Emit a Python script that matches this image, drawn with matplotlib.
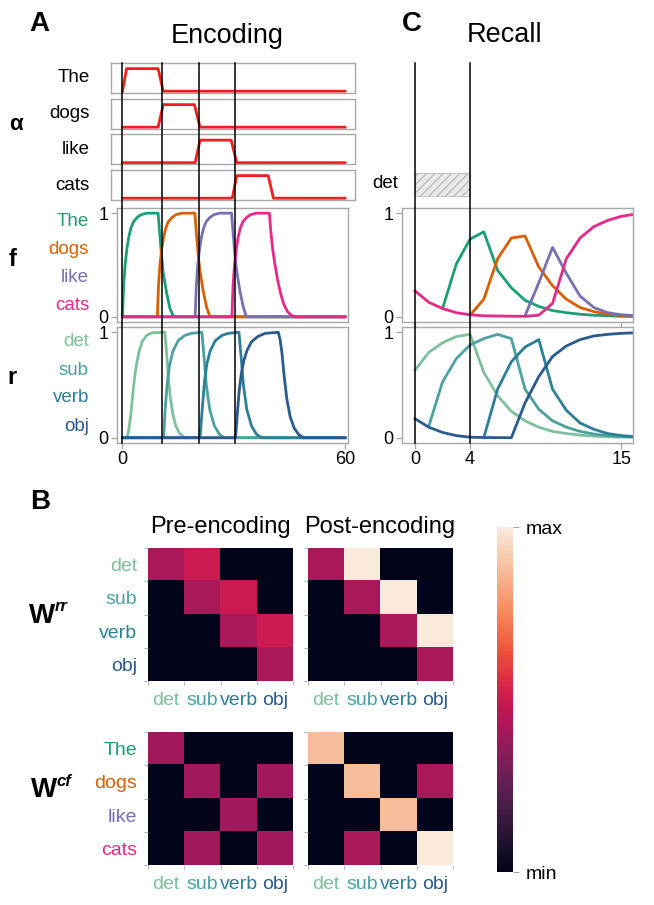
import numpy as np
import matplotlib
matplotlib.use("Agg")
import matplotlib.pyplot as plt
import matplotlib.transforms as mtransforms
from matplotlib.lines import Line2D
from matplotlib.patches import Rectangle
from matplotlib.colors import Normalize
from matplotlib.cm import ScalarMappable
import seaborn as sns

plt.rcParams['font.family'] = ['Liberation Sans', 'DejaVu Sans']

nan = np.nan

# --- labels / colours ---
words = ["The", "dogs", "like", "cats"]
roles = ["det", "sub", "verb", "obj"]
word_colors = ["#1b9e77", "#d95f02", "#7570b3", "#e7298a"]
role_colors = ["#7dc09b", "#4aa19f", "#2c7f98", "#2b5a8e"]

# --- A: encoding, attention alpha (time, value) ---
alpha_the_t = [0, 1.1, 9.6, 11.0, 60]
alpha_the_y = [0, 1, 1, 0, 0]
alpha_dogs_t = [0, 9.6, 11.0, 19.4, 20.9, 60]
alpha_dogs_y = [0, 0, 1, 1, 0, 0]
alpha_like_t = [0, 19.6, 20.9, 29.3, 30.8, 60]
alpha_like_y = [0, 0, 1, 1, 0, 0]
alpha_cats_t = [0, 29.6, 30.8, 39.3, 40.7, 60]
alpha_cats_y = [0, 0, 1, 1, 0, 0]

# --- A: encoding, f units ---
f_the_t = [0, 0.3, 0.7, 1.2, 1.7, 2.3, 3.0, 4.0, 5.0, 6.5, 9.6, 10.0, 10.5, 11.0, 11.9, 12.8, 13.6, 14.2, 60]
f_the_y = [0, 0.30, 0.50, 0.66, 0.77, 0.86, 0.92, 0.96, 0.985, 1.0, 1.0, 0.82, 0.60, 0.42, 0.23, 0.08, 0.015, 0, 0]
f_dogs_t = [0, 9.4, 9.7, 10.1, 10.6, 11.1, 11.7, 12.4, 13.4, 14.4, 16.0, 19.5, 19.9, 20.4, 20.9, 21.8, 22.7, 23.5, 24.0, 60]
f_dogs_y = [0, 0, 0.30, 0.50, 0.66, 0.77, 0.86, 0.92, 0.96, 0.985, 1.0, 1.0, 0.82, 0.60, 0.44, 0.24, 0.09, 0.01, 0, 0]
f_like_t = [0, 19.6, 19.9, 20.3, 20.8, 21.3, 21.9, 22.6, 23.6, 24.6, 26.2, 29.4, 29.8, 30.3, 30.8, 31.7, 32.6, 33.3, 33.8, 60]
f_like_y = [0, 0, 0.30, 0.50, 0.66, 0.77, 0.86, 0.92, 0.96, 0.985, 1.0, 1.0, 0.82, 0.60, 0.44, 0.24, 0.09, 0.01, 0, 0]
f_cats_t = [0, 29.5, 29.8, 30.2, 30.7, 31.2, 31.8, 32.5, 33.5, 34.5, 36.1, 39.6, 40.0, 40.5, 41.0, 41.8, 42.6, 43.5, 44.5, 45.5, 46.5, 60]
f_cats_y = [0, 0, 0.30, 0.50, 0.66, 0.77, 0.86, 0.92, 0.96, 0.985, 1.0, 1.0, 0.82, 0.65, 0.53, 0.36, 0.23, 0.12, 0.05, 0.015, 0, 0]

# --- A: encoding, r units ---
r_det_t = [0, 1.3, 1.8, 2.3, 2.8, 3.3, 3.8, 4.5, 5.3, 6.5, 8.0, 11.4, 11.9, 12.4, 12.9, 13.6, 14.4, 15.4, 16.8, 60]
r_det_y = [0, 0, 0.10, 0.24, 0.42, 0.58, 0.70, 0.82, 0.91, 0.97, 0.995, 1.0, 0.80, 0.56, 0.38, 0.22, 0.11, 0.04, 0, 0]
r_sub_t = [0, 11.1, 11.5, 12.1, 12.7, 13.6, 15.0, 16.8, 18.6, 21.4, 22.0, 22.6, 23.5, 24.8, 26.2, 27.5, 60]
r_sub_y = [0, 0, 0.27, 0.53, 0.69, 0.82, 0.92, 0.97, 0.99, 1.0, 0.76, 0.50, 0.27, 0.11, 0.03, 0, 0]
r_verb_t = [0, 20.9, 21.5, 22.1, 22.7, 23.6, 25.0, 26.8, 28.6, 31.4, 32.0, 32.6, 33.5, 34.8, 36.2, 37.5, 60]
r_verb_y = [0, 0, 0.27, 0.53, 0.69, 0.82, 0.92, 0.97, 0.99, 1.0, 0.76, 0.50, 0.27, 0.11, 0.03, 0, 0]
r_obj_t = [0, 30.5, 30.9, 31.4, 32.0, 32.7, 33.6, 34.8, 36.5, 38.5, 42.0, 42.5, 43.0, 43.6, 44.3, 45.2, 46.3, 47.5, 48.8, 60]
r_obj_y = [0, 0, 0.20, 0.42, 0.60, 0.73, 0.83, 0.91, 0.96, 0.99, 1.0, 0.93, 0.80, 0.58, 0.37, 0.20, 0.09, 0.03, 0, 0]

word_onsets = [0, 10.6, 20.7, 30.4]

# --- C: recall (integer time steps) ---
t_rec = list(range(17))
f_rec_the = [nan, nan, 0.08, 0.51, 0.75, 0.82, 0.45, 0.28, 0.16, 0.10, 0.06, 0.04, 0.025, 0.015, 0.01, 0.005, 0.003]
f_rec_dogs = [nan, nan, nan, nan, 0.016, 0.17, 0.56, 0.76, 0.78, 0.48, 0.30, 0.17, 0.09, 0.05, 0.025, 0.012, 0.006]
f_rec_like = [nan, nan, nan, nan, nan, nan, nan, nan, 0.01, 0.33, 0.67, 0.42, 0.20, 0.09, 0.04, 0.02, 0.01]
f_rec_cats = [0.25, 0.14, 0.08, 0.04, 0.02, 0.01, 0.008, 0.006, 0.005, 0.016, 0.13, 0.56, 0.76, 0.87, 0.93, 0.97, 0.99]
r_rec_det = [0.64, 0.81, 0.90, 0.96, 0.98, 0.62, 0.40, 0.25, 0.16, 0.10, 0.06, 0.04, 0.025, 0.015, 0.01, 0.006, 0.004]
r_rec_sub = [nan, 0.11, 0.53, 0.75, 0.88, 0.94, 0.98, 0.94, 0.46, 0.27, 0.16, 0.10, 0.06, 0.035, 0.02, 0.012, 0.007]
r_rec_verb = [nan, nan, nan, nan, nan, 0.0, 0.46, 0.72, 0.86, 0.93, 0.46, 0.26, 0.14, 0.08, 0.04, 0.02, 0.01]
r_rec_obj = [0.18, 0.10, 0.05, 0.02, 0.005, 0.002, 0.001, 0.0, 0.33, 0.58, 0.77, 0.87, 0.93, 0.965, 0.98, 0.99, 0.995]
cue_window = (0, 4)

# --- B: weight matrices (normalised 0 = min, 1 = max) ---
W_rr_pre = [[0.42, 0.50, 0, 0],
            [0, 0.42, 0.50, 0],
            [0, 0, 0.42, 0.50],
            [0, 0, 0, 0.42]]
W_rr_post = [[0.42, 1.0, 0, 0],
             [0, 0.42, 1.0, 0],
             [0, 0, 0.42, 1.0],
             [0, 0, 0, 0.42]]
W_cf_pre = [[0.40, 0, 0, 0],
            [0, 0.40, 0, 0.40],
            [0, 0, 0.40, 0],
            [0, 0.40, 0, 0.40]]
W_cf_post = [[0.88, 0, 0, 0],
             [0, 0.88, 0, 0.42],
             [0, 0, 0.88, 0],
             [0, 0.42, 0, 1.0]]

W, H = 654, 905
fig = plt.figure(figsize=(W / 100, H / 100), dpi=100)
GRAY = "#a8a8a8"
rocket = sns.color_palette("rocket", as_cmap=True)


def box(x0, y0, x1, y1):
    return [x0 / W, 1 - y1 / H, (x1 - x0) / W, (y1 - y0) / H]


def put(x, y, s, **kw):
    fig.text(x / W, 1 - y / H, s, **kw)


def gray_frame(ax):
    for sp in ax.spines.values():
        sp.set_color(GRAY)
        sp.set_linewidth(1)
    ax.tick_params(colors=GRAY, labelcolor="black", labelsize=13, length=4, width=1, pad=2)


# ---------------- Panel A ----------------
put(39, 24, "A", fontsize=20, fontweight="bold", ha="center", va="center")
put(227, 43, "Encoding", fontsize=19.5, ha="center", va="baseline")
put(16, 125, "α", fontsize=16, fontweight="bold", ha="center", va="center")
put(13, 259, "f", fontsize=17, fontweight="bold", ha="center", va="center")
put(12, 378, "r", fontsize=17, fontweight="bold", ha="center", va="center")

alpha_series = [(alpha_the_t, alpha_the_y), (alpha_dogs_t, alpha_dogs_y),
                (alpha_like_t, alpha_like_y), (alpha_cats_t, alpha_cats_y)]
alpha_tops = [63, 99, 134.5, 170]
for word, (tt, yy), top in zip(words, alpha_series, alpha_tops):
    ax = fig.add_axes(box(111, top, 355, top + 30))
    ax.plot(tt, yy, color="#f21d1d", lw=2)
    ax.set_xlim(-3.1, 62.7)
    ax.set_ylim(-0.08, 1.25)
    ax.set_xticks([])
    ax.set_yticks([])
    gray_frame(ax)
    put(90, top + 15, word, fontsize=13.5, ha="right", va="center")

ax_fa = fig.add_axes(box(117, 208, 348, 322))
for tt, yy, c in zip([f_the_t, f_dogs_t, f_like_t, f_cats_t],
                     [f_the_y, f_dogs_y, f_like_y, f_cats_y], word_colors):
    ax_fa.plot(tt, yy, color=c, lw=2)
ax_fa.set_xlim(-1.48, 60.8)
ax_fa.set_ylim(-0.05, 1.05)
ax_fa.set_xticks([])
ax_fa.set_yticks([0, 1])
ax_fa.set_yticklabels(["0", "1"])
gray_frame(ax_fa)
for word, c, y in zip(words, word_colors, [221, 249, 277, 305]):
    put(89, y, word, fontsize=13.5, color=c, ha="right", va="center")

ax_ra = fig.add_axes(box(117, 327, 348, 443))
for tt, yy, c in zip([r_det_t, r_sub_t, r_verb_t, r_obj_t],
                     [r_det_y, r_sub_y, r_verb_y, r_obj_y], role_colors):
    ax_ra.plot(tt, yy, color=c, lw=2)
ax_ra.set_xlim(-1.48, 60.8)
ax_ra.set_ylim(-0.05, 1.05)
ax_ra.set_xticks([0, 60])
ax_ra.set_yticks([0, 1])
ax_ra.set_yticklabels(["0", "1"])
gray_frame(ax_ra)
for role, c, y in zip(roles, role_colors, [342, 370, 398, 426]):
    put(89, y, role, fontsize=13.5, color=c, ha="right", va="center")

trans_a = mtransforms.blended_transform_factory(ax_fa.transData, fig.transFigure)
for tv in word_onsets:
    fig.add_artist(Line2D([tv, tv], [1 - 63 / H, 1 - 443 / H], transform=trans_a,
                          color="black", lw=1.1, zorder=10))

# ---------------- Panel C ----------------
put(412, 24, "C", fontsize=20, fontweight="bold", ha="center", va="center")
put(505, 42, "Recall", fontsize=19.5, ha="center", va="baseline")

ax_fc = fig.add_axes(box(402, 208, 633, 322))
for yy, c in zip([f_rec_the, f_rec_dogs, f_rec_like, f_rec_cats], word_colors):
    ax_fc.plot(t_rec, yy, color=c, lw=2)
ax_fc.set_xlim(-0.95, 15.85)
ax_fc.set_ylim(-0.05, 1.05)
ax_fc.set_xticks([0, 4, 15])
ax_fc.set_xticklabels([])
ax_fc.set_yticks([0, 1])
ax_fc.set_yticklabels(["0", "1"])
gray_frame(ax_fc)

ax_rc = fig.add_axes(box(402, 327, 633, 443))
for yy, c in zip([r_rec_det, r_rec_sub, r_rec_verb, r_rec_obj], role_colors):
    ax_rc.plot(t_rec, yy, color=c, lw=2)
ax_rc.set_xlim(-0.95, 15.85)
ax_rc.set_ylim(-0.05, 1.05)
ax_rc.set_xticks([0, 4, 15])
ax_rc.set_yticks([0, 1])
ax_rc.set_yticklabels(["0", "1"])
gray_frame(ax_rc)

trans_c = mtransforms.blended_transform_factory(ax_fc.transData, fig.transFigure)
fig.add_artist(Rectangle((cue_window[0], 1 - 196 / H), cue_window[1] - cue_window[0], 23 / H,
                         transform=trans_c, facecolor="#e8e8e8", edgecolor="#bdbdbd",
                         hatch="////", lw=0.6))
put(398, 184, "det", fontsize=13.5, ha="right", va="center")
for tv in cue_window:
    fig.add_artist(Line2D([tv, tv], [1 - 63 / H, 1 - 443 / H], transform=trans_c,
                          color="black", lw=1.1, zorder=10))

# ---------------- Panel B ----------------
put(40, 502, "B", fontsize=20, fontweight="bold", ha="center", va="center")
put(220, 533, "Pre-encoding", fontsize=17, ha="center", va="baseline")
put(380, 533, "Post-encoding", fontsize=17, ha="center", va="baseline")

put(29, 623, "W", fontsize=20, fontweight="bold", ha="left", va="baseline")
put(55, 611, "rr", fontsize=12, fontweight="bold", style="italic", ha="left", va="baseline")
put(31, 797, "W", fontsize=20, fontweight="bold", ha="left", va="baseline")
put(56, 786, "cf", fontsize=12, fontweight="bold", style="italic", ha="left", va="baseline")


def heat(ax, M, row_labels, row_colors):
    ax.imshow(np.array(M), cmap=rocket, vmin=0, vmax=1, aspect="auto", interpolation="nearest")
    ax.set_xticks(range(4))
    ax.set_xticklabels(roles, fontsize=14)
    for lab, c in zip(ax.get_xticklabels(), role_colors):
        lab.set_color(c)
    if row_labels is None:
        ax.set_yticks([])
    else:
        ax.set_yticks(range(4))
        ax.set_yticklabels(row_labels, fontsize=14)
        for lab, c in zip(ax.get_yticklabels(), row_colors):
            lab.set_color(c)
    ax.set_xticks(np.arange(-0.5, 4), minor=True)
    ax.set_yticks(np.arange(-0.5, 4), minor=True)
    ax.tick_params(which="major", length=0, pad=8)
    ax.tick_params(which="minor", length=3, color=GRAY)
    for sp in ax.spines.values():
        sp.set_visible(False)


heat(fig.add_axes(box(148, 548, 293, 681)), W_rr_pre, roles, role_colors)
heat(fig.add_axes(box(308, 548, 453, 681)), W_rr_post, None, None)
heat(fig.add_axes(box(148, 732, 293, 865)), W_cf_pre, words, word_colors)
heat(fig.add_axes(box(308, 732, 453, 865)), W_cf_post, None, None)

cax = fig.add_axes(box(497, 527, 513, 872))
cb = fig.colorbar(ScalarMappable(norm=Normalize(0, 1), cmap=rocket), cax=cax)
cb.set_ticks([0, 1])
cb.set_ticklabels(["min", "max"])
cb.outline.set_visible(False)
cax.tick_params(length=4, color=GRAY, labelsize=14, pad=5)

fig.savefig("out.png", dpi=100)
